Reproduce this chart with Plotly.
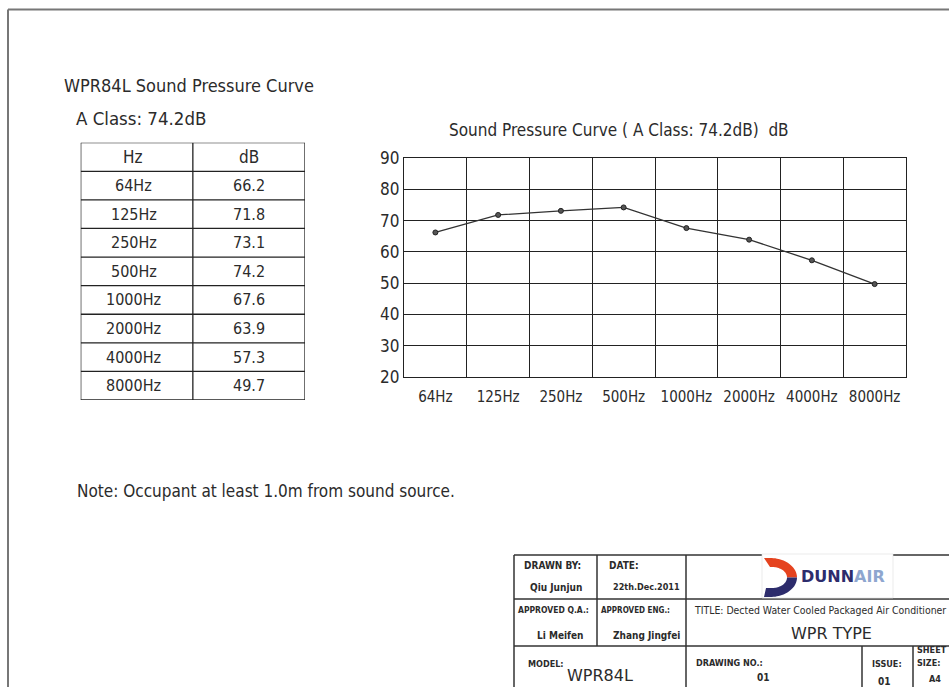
import math
import plotly.graph_objects as go

# ---------------- data ----------------
freq_labels = ["64Hz", "125Hz", "250Hz", "500Hz", "1000Hz", "2000Hz", "4000Hz", "8000Hz"]
db_values = [66.2, 71.8, 73.1, 74.2, 67.6, 63.9, 57.3, 49.7]
y_ticks = [20, 30, 40, 50, 60, 70, 80, 90]
table_header = ["Hz", "dB"]

W, H = 949, 687
FONT = "DejaVu Sans Condensed, Liberation Sans, sans-serif"
TXT = "#2b2b2b"
LINE = "#222222"


def px(x):
    return x / W


def py(y):
    return 1 - y / H


fig = go.Figure()

# ---------------- main chart ----------------
fig.add_trace(go.Scatter(
    x=freq_labels, y=db_values, mode="lines+markers",
    line=dict(color="#333333", width=1.3),
    marker=dict(size=5, color="#555555", line=dict(color="#222222", width=1)),
    xaxis="x", yaxis="y", showlegend=False, hoverinfo="x+y",
))

shapes = []

# ---------------- table (own axes) ----------------
n_rows = len(freq_labels) + 1
for i in range(n_rows + 1):
    shapes.append(dict(type="line", xref="x2", yref="y2", x0=0, x1=2, y0=i, y1=i,
                       line=dict(color=LINE, width=1.3)))
for j in range(3):
    shapes.append(dict(type="line", xref="x2", yref="y2", x0=j, x1=j, y0=0, y1=n_rows,
                       line=dict(color=LINE, width=1.3)))
for j, h in enumerate(table_header):
    fig.add_annotation(xref="x2", yref="y2", x=j + 0.5, y=0.5, text=h, showarrow=False,
                       font=dict(family=FONT, size=17, color=TXT), xshift=-4 if j == 0 else 0)
for i, (f, v) in enumerate(zip(freq_labels, db_values)):
    fig.add_annotation(xref="x2", yref="y2", x=0.5, y=i + 1.5, text=f, showarrow=False,
                       font=dict(family=FONT, size=16, color=TXT), xshift=-3)
    fig.add_annotation(xref="x2", yref="y2", x=1.5, y=i + 1.5, text=f"{v:.1f}", showarrow=False,
                       font=dict(family=FONT, size=16, color=TXT))


# ---------------- free texts ----------------
def text(x, y, s, size, anchor="left", family=FONT, color=TXT, weight="normal"):
    fig.add_annotation(xref="paper", yref="paper", x=px(x), y=py(y), text=s, showarrow=False,
                       xanchor=anchor, yanchor="middle",
                       font=dict(family=family, size=size, color=color, weight=weight))


text(62, 85, "WPR84L Sound Pressure Curve", 18)
text(74, 118, "A Class: 74.2dB", 18.5)
text(619, 130, "Sound Pressure Curve ( A Class: 74.2dB)  dB", 17, anchor="center")
text(75, 491, "Note: Occupant at least 1.0m from sound source.", 17)

# ---------------- drawing frame ----------------
shapes.append(dict(type="line", xref="paper", yref="paper", x0=px(8), x1=px(W + 5), y0=py(9.5), y1=py(9.5),
                   line=dict(color="#777777", width=2)))
shapes.append(dict(type="line", xref="paper", yref="paper", x0=px(8), x1=px(8), y0=py(9.5), y1=py(H + 5),
                   line=dict(color="#777777", width=2)))

# ---------------- title block ----------------
TB = dict(color="#333333", width=1.5)


def hline(x0, x1, y):
    shapes.append(dict(type="line", xref="paper", yref="paper", x0=px(x0), x1=px(x1), y0=py(y), y1=py(y), line=TB))


def vline(x, y0, y1):
    shapes.append(dict(type="line", xref="paper", yref="paper", x0=px(x), x1=px(x), y0=py(y0), y1=py(y1), line=TB))


hline(514, W + 5, 555)
hline(514, W + 5, 599)
hline(514, W + 5, 646)
vline(514, 555, H + 5)
vline(597, 555, 646)
vline(686, 555, H + 5)
vline(862, 646, H + 5)
vline(913, 646, H + 5)

# logo background
shapes.append(dict(type="rect", xref="paper", yref="paper", x0=px(762), x1=px(893), y0=py(554), y1=py(598),
                   fillcolor="white", line=dict(width=0.6, color="#dddddd"), layer="above"))


def path_from(points):
    return "M " + " L ".join(f"{px(a):.5f},{py(b):.5f}" for a, b in points) + " Z"


cx, cy = 770.0, 577.5
outer_rx, outer_ry = 27.0, 19.5
inner_rx, inner_ry = 15.0, 10.5
icx = 772.0


def half(cxx, rx, ry, a0, a1, n=24):
    pts = []
    for k in range(n + 1):
        a = a0 + (a1 - a0) * k / n
        pts.append((cxx + rx * math.cos(a), cy - ry * math.sin(a)))
    return pts


upper = [(cx - 6, cy - outer_ry)] + half(cx, outer_rx, outer_ry, math.pi / 2, 0) \
    + half(icx, inner_rx, inner_ry, 0, math.pi / 2) + [(icx - 2, cy - inner_ry)]
shapes.append(dict(type="path", xref="paper", yref="paper", path=path_from(upper),
                   fillcolor="#e5431f", line=dict(width=0), layer="above"))
lower = [(cx - 6, cy + outer_ry)] + half(cx, outer_rx, outer_ry, -math.pi / 2, 0) \
    + half(icx, inner_rx, inner_ry, 0, -math.pi / 2) + [(cx - 4, cy + inner_ry)]
shapes.append(dict(type="path", xref="paper", yref="paper", path=path_from(lower),
                   fillcolor="#2d2c6c", line=dict(width=0), layer="above"))

fig.update_layout(shapes=shapes)

fig.add_annotation(xref="paper", yref="paper", x=px(799), y=py(576), xanchor="left", yanchor="middle",
                   text='<span style="color:#2d2c6c">DUNN</span><span style="color:#8ea6cf">AIR</span>',
                   showarrow=False, font=dict(family="DejaVu Sans", size=16, weight="bold"))

SMALL = FONT
text(522, 565, "DRAWN BY:", 10, family=SMALL, weight="bold")
text(528, 587, "Qiu Junjun", 10, family=SMALL, weight="bold")
text(607, 565, "DATE:", 10, family=SMALL, weight="bold")
text(611, 587, "22th.Dec.2011", 9, family=SMALL, weight="bold")
text(516, 610, "APPROVED Q.A.:", 8.5, family=SMALL, weight="bold")
text(535, 635, "Li Meifen", 10, family=SMALL, weight="bold")
text(599, 610, "APPROVED ENG.:", 8, family=SMALL, weight="bold")
text(611, 635, "Zhang Jingfei", 10, family=SMALL, weight="bold")
text(692, 610, "TITLE: Dected Water Cooled Packaged Air Conditioner", 10.4, family=SMALL)
text(831, 633, "WPR TYPE", 16, anchor="center", family="DejaVu Sans")
text(526, 664, "MODEL:", 9, family=SMALL, weight="bold")
text(600, 675, "WPR84L", 16, anchor="center", family="DejaVu Sans")
text(694, 663, "DRAWING NO.:", 9, family=SMALL, weight="bold")
text(763, 677, "01", 10, anchor="center", family=SMALL, weight="bold")
text(887, 664, "ISSUE:", 9, anchor="center", family=SMALL, weight="bold")
text(884, 681, "01", 10, anchor="center", family=SMALL, weight="bold")
text(915, 650, "SHEET", 9, family=SMALL, weight="bold")
text(915, 663, "SIZE:", 9, family=SMALL, weight="bold")
text(927, 679, "A4", 9, family=SMALL, weight="bold")

# ---------------- layout ----------------
fig.update_layout(
    width=W, height=H,
    margin=dict(l=0, r=0, t=0, b=0),
    paper_bgcolor="white", plot_bgcolor="white",
    xaxis=dict(domain=[px(404), px(906)], anchor="y", type="category", range=[-0.5, 7.5],
               tickson="boundaries", showgrid=True, gridcolor=LINE, gridwidth=1.3,
               showline=True, mirror=True, linecolor=LINE, linewidth=1.3, ticks="",
               zeroline=False, tickangle=0, automargin=False, ticklabelstandoff=6,
               tickfont=dict(family=FONT, size=15, color=TXT)),
    yaxis=dict(domain=[py(377), py(158)], anchor="x", range=[20, 90], tickvals=y_ticks,
               showgrid=True, gridcolor=LINE, gridwidth=1.3, showline=True, mirror=True,
               linecolor=LINE, linewidth=1.3, ticks="", zeroline=False, automargin=False,
               tickfont=dict(family=FONT, size=17, color=TXT)),
    xaxis2=dict(domain=[px(80.7), px(305)], anchor="y2", range=[0, 2], visible=False, fixedrange=True),
    yaxis2=dict(domain=[py(400), py(142.7)], anchor="x2", range=[len(freq_labels) + 1, 0],
                visible=False, fixedrange=True),
    showlegend=False,
)

fig.write_html("out.html", config={"displayModeBar": False},
               post_script="document.body.style.margin='0';document.body.style.overflow='hidden';")
